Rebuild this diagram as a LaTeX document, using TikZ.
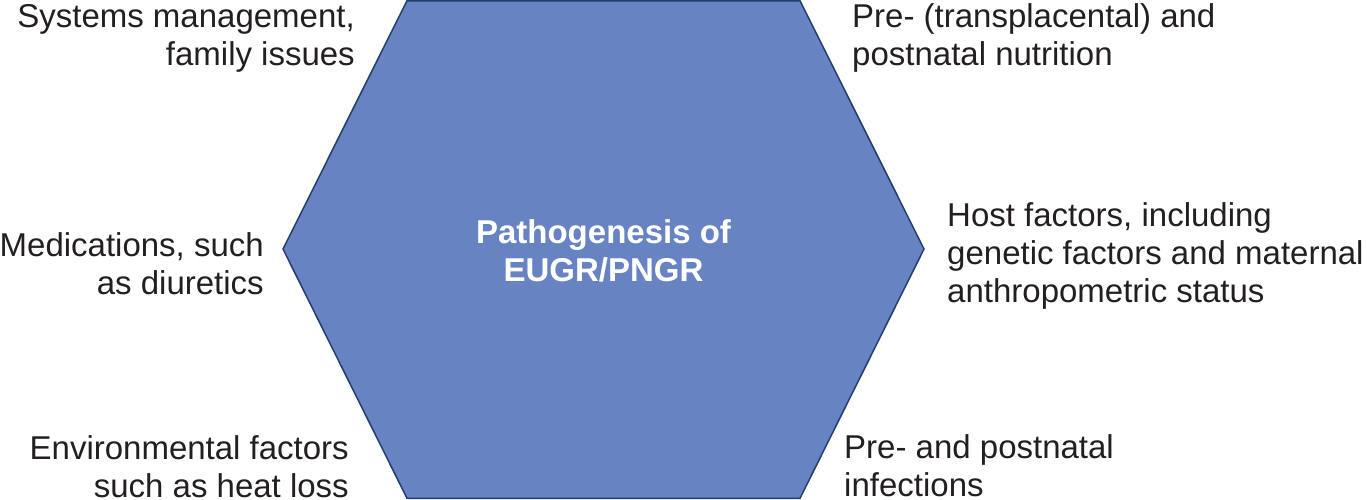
\documentclass[tikz,border=0pt]{standalone}
\usepackage{fontspec}
\setmainfont{Liberation Sans}
\usetikzlibrary{positioning}
\definecolor{hexfill}{RGB}{103,131,194}
\definecolor{hexline}{RGB}{34,62,108}
\definecolor{txtgray}{RGB}{35,31,32}

\begin{document}
\begin{tikzpicture}[x=1pt, y=-1pt,
  factor/.style={font=\fontsize{33}{38}\selectfont, text=txtgray, inner sep=0pt},
  lft/.style={factor, align=right, anchor=base east},
  rgt/.style={factor, align=left, anchor=base west}]
\useasboundingbox (0,0) rectangle (1367,499);
% Hexagon
\draw[hexline, line width=1.5pt, fill=hexfill, line join=miter]
  (407,0.75) -- (800,0.75) -- (924,249) -- (800,498.25) -- (407,498.25) -- (283,249) -- cycle;
\node[factor, font=\fontsize{33}{38}\selectfont\bfseries, text=white, align=center, anchor=base]
  (core) at (603.5,281) {Pathogenesis of\\EUGR/PNGR};

% Left side (base = last line)
\node[lft] (systems) at (355,65) {Systems management,\\family issues};
\node[lft] (meds) at (264,294) {Medications, such\\as diuretics};
\node[lft] (environ) at (349,497) {Environmental factors\\such as heat loss};

% Right side
\node[rgt] (nutrition) at (852,65) {Pre- (transplacental) and\\postnatal nutrition};
\node[rgt] (host) at (947,302) {Host factors, including\\genetic factors and maternal\\anthropometric status};
\node[rgt] (infect) at (844,496) {Pre- and postnatal\\infections};
\end{tikzpicture}
\end{document}
